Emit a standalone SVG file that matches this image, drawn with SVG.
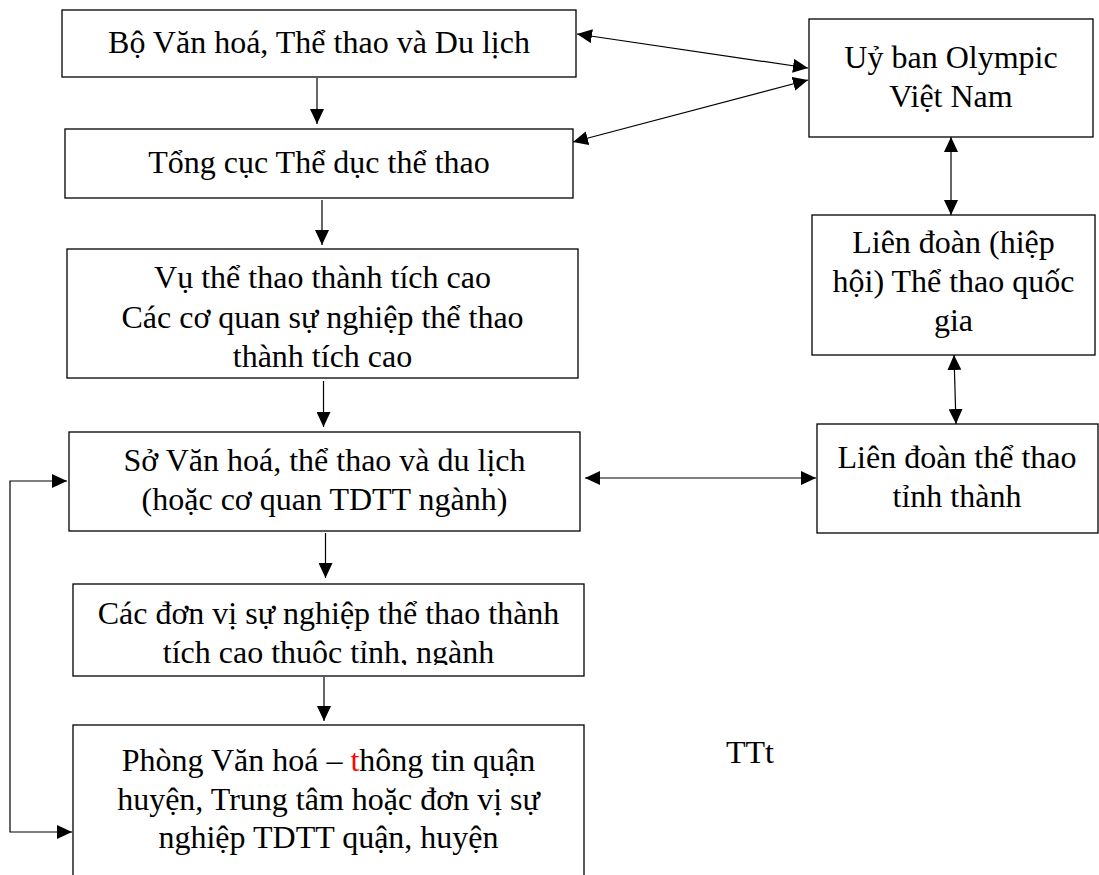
<svg xmlns="http://www.w3.org/2000/svg" width="1099" height="875" viewBox="0 0 1099 875">
<style>
.box{fill:#fff;stroke:#000;stroke-width:1.3}
.t{font-family:"Liberation Serif","Times New Roman",serif;font-size:32px;fill:#000;text-anchor:middle}
.ln{fill:none;stroke:#000;stroke-width:1.2}
</style>
<defs>
<marker id="ah" markerUnits="userSpaceOnUse" markerWidth="15" markerHeight="14" refX="15" refY="7" orient="auto-start-reverse" viewBox="0 0 15 14">
<path d="M0,0 L15,7 L0,14 z" fill="#000"/>
</marker>
<clipPath id="c5"><rect x="73" y="584" width="511" height="81"/></clipPath>
</defs>
<rect width="1099" height="875" fill="#fff"/>

<g id="connectors">
<line class="ln" x1="317" y1="78" x2="317" y2="124" marker-end="url(#ah)"/>
<line class="ln" x1="322" y1="200" x2="322" y2="245" marker-end="url(#ah)"/>
<line class="ln" x1="323.5" y1="381" x2="323.5" y2="427" marker-end="url(#ah)"/>
<line class="ln" x1="325.5" y1="533" x2="325.5" y2="578" marker-end="url(#ah)"/>
<line class="ln" x1="324" y1="677" x2="324" y2="721" marker-end="url(#ah)"/>
<line class="ln" x1="577" y1="34" x2="808" y2="68" marker-start="url(#ah)" marker-end="url(#ah)"/>
<line class="ln" x1="573" y1="142" x2="808" y2="80" marker-start="url(#ah)" marker-end="url(#ah)"/>
<line class="ln" x1="951" y1="137" x2="951" y2="215" marker-start="url(#ah)" marker-end="url(#ah)"/>
<line class="ln" x1="954" y1="355" x2="956" y2="424" marker-start="url(#ah)" marker-end="url(#ah)"/>
<line class="ln" x1="585" y1="478" x2="816" y2="478" marker-start="url(#ah)" marker-end="url(#ah)"/>
<polyline class="ln" points="67,481 10,481 10,832 72,832" marker-start="url(#ah)" marker-end="url(#ah)"/>
</g>

<g id="n-bo">
<rect class="box" x="62" y="10" width="514" height="67"/>
<text class="t" x="319" y="53">Bộ Văn hoá, Thể thao và Du lịch</text>
</g>

<g id="n-tongcuc">
<rect class="box" x="65" y="129" width="508" height="69"/>
<text class="t" x="319" y="173">Tổng cục Thể dục thể thao</text>
</g>

<g id="n-vu">
<rect class="box" x="67" y="249" width="511" height="129"/>
<text class="t" x="322.5" y="288">Vụ thể thao thành tích cao</text>
<text class="t" x="322.5" y="328">Các cơ quan sự nghiệp thể thao</text>
<text class="t" x="322.5" y="367">thành tích cao</text>
</g>

<g id="n-so">
<rect class="box" x="69" y="432" width="511" height="99"/>
<text class="t" x="324.5" y="471">Sở Văn hoá, thể thao và du lịch</text>
<text class="t" x="324.5" y="510">(hoặc cơ quan TDTT ngành)</text>
</g>

<g id="n-donvi">
<rect class="box" x="73" y="584" width="511" height="92"/>
<g clip-path="url(#c5)">
<text class="t" x="328.5" y="624">Các đơn vị sự nghiệp thể thao thành</text>
<text class="t" x="328.5" y="663">tích cao thuộc tỉnh, ngành</text>
</g>
</g>

<g id="n-phong">
<rect class="box" x="73" y="725" width="511" height="200"/>
<text class="t" x="328.5" y="771">Phòng Văn hoá – <tspan fill="#ff0000">t</tspan>hông tin quận</text>
<text class="t" x="328.5" y="810">huyện, Trung tâm hoặc đơn vị sự</text>
<text class="t" x="328.5" y="848">nghiệp TDTT quận, huyện</text>
</g>

<g id="n-ubov">
<rect class="box" x="809" y="19" width="284" height="118"/>
<text class="t" x="951" y="68">Uỷ ban Olympic</text>
<text class="t" x="951" y="107">Việt Nam</text>
</g>

<g id="n-ldqg">
<rect class="box" x="812" y="215" width="283" height="140"/>
<text class="t" x="953.5" y="253">Liên đoàn (hiệp</text>
<text class="t" x="953.5" y="292">hội) Thể thao quốc</text>
<text class="t" x="953.5" y="331">gia</text>
</g>

<g id="n-ldtt">
<rect class="box" x="817" y="424" width="281" height="109"/>
<text class="t" x="957" y="468">Liên đoàn thể thao</text>
<text class="t" x="957" y="507">tỉnh thành</text>
</g>

<g id="n-ttt">
<text class="t" x="726" y="763" style="text-anchor:start">TTt</text>
</g>
</svg>
